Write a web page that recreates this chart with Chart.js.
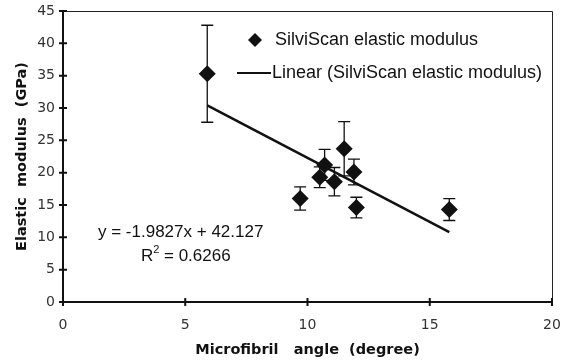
<!DOCTYPE html>
<html>
<head>
<meta charset="utf-8">
<script src="https://cdn.jsdelivr.net/npm/chart.js@4"></script>
<style>
  html, body { margin: 0; padding: 0; background: #fff; }
  #wrap { width: 569px; height: 363px; }
</style>
</head>
<body>
<div id="wrap"><canvas id="chart"></canvas></div>
<script>
// values
const mfa = [5.9, 9.7, 10.5, 10.7, 11.1, 11.5, 11.9, 12.0, 15.8];
const modulus = [35.3, 16.0, 19.3, 21.2, 18.6, 23.7, 20.1, 14.6, 14.3];
const errors = [7.5, 1.8, 1.6, 2.4, 2.2, 4.2, 2.0, 1.6, 1.7];
const trendX = [5.9, 15.8];
const trendY = [30.4, 10.8];
const xTicks = [0, 5, 10, 15, 20];
const yTicks = [0, 5, 10, 15, 20, 25, 30, 35, 40, 45];
const equation = 'y = -1.9827x + 42.127';
const rSquared = '0.6266';

const textFont = '17px "Liberation Sans", Arial, sans-serif';
const legendFont = '18px "Liberation Sans", Arial, sans-serif';

// error bars, axis tick marks, legend and the trendline label
const extras = {
    id: 'extras',
    afterDatasetsDraw(chart) {
        const ctx = chart.ctx;
        const xs = chart.scales.x, ys = chart.scales.y;
        const area = chart.chartArea;
        ctx.save();
        ctx.strokeStyle = '#111';
        ctx.lineWidth = 1.3;
        mfa.forEach((x, i) => {
            const px = xs.getPixelForValue(x);
            const top = ys.getPixelForValue(modulus[i] + errors[i]);
            const bot = ys.getPixelForValue(modulus[i] - errors[i]);
            ctx.beginPath();
            ctx.moveTo(px, top); ctx.lineTo(px, bot);
            ctx.moveTo(px - 6, top); ctx.lineTo(px + 6, top);
            ctx.moveTo(px - 6, bot); ctx.lineTo(px + 6, bot);
            ctx.stroke();
        });

        // plot frame: thin top/right, thick left/bottom
        ctx.strokeStyle = '#222';
        ctx.lineWidth = 1;
        ctx.beginPath();
        ctx.moveTo(area.left, area.top + 0.5); ctx.lineTo(area.right + 0.5, area.top + 0.5);
        ctx.lineTo(area.right + 0.5, area.bottom);
        ctx.stroke();
        ctx.strokeStyle = '#111';
        ctx.lineWidth = 2;
        ctx.beginPath();
        ctx.moveTo(area.left, area.top); ctx.lineTo(area.left, area.bottom);
        ctx.lineTo(area.right + 1, area.bottom);
        ctx.stroke();
        ctx.beginPath();
        yTicks.forEach(v => {
            const py = ys.getPixelForValue(v);
            ctx.moveTo(area.left - 4, py); ctx.lineTo(area.left + 4, py);
        });
        xTicks.forEach(v => {
            const px = xs.getPixelForValue(v);
            ctx.moveTo(px, area.bottom - 4); ctx.lineTo(px, area.bottom + 4);
        });
        ctx.stroke();

        // legend
        ctx.fillStyle = '#111';
        ctx.beginPath();
        ctx.moveTo(255, 33); ctx.lineTo(262, 40); ctx.lineTo(255, 47); ctx.lineTo(248, 40);
        ctx.closePath();
        ctx.fill();
        ctx.lineWidth = 2;
        ctx.beginPath();
        ctx.moveTo(237, 73); ctx.lineTo(271, 73);
        ctx.stroke();
        ctx.font = legendFont;
        ctx.textBaseline = 'middle';
        ctx.textAlign = 'left';
        ctx.fillText('SilviScan elastic modulus', 275, 40);
        ctx.fillText('Linear (SilviScan elastic modulus)', 272, 73);

        // trendline label
        ctx.font = textFont;
        ctx.fillText(equation, 98, 232);
        ctx.fillText('R', 141, 256);
        const rw = ctx.measureText('R').width;
        ctx.font = '11px "Liberation Sans", Arial, sans-serif';
        ctx.fillText('2', 141 + rw, 250);
        ctx.font = textFont;
        ctx.fillText(' = ' + rSquared, 141 + rw + 6, 256);
        ctx.restore();
    }
};

const tickFont = { family: '"DejaVu Sans", Verdana, sans-serif', size: 14 };
const titleFont = { family: '"DejaVu Sans", Verdana, sans-serif', size: 14.5, weight: 'bold' };

new Chart(document.getElementById('chart'), {
    type: 'scatter',
    data: {
        datasets: [{
            label: 'SilviScan elastic modulus',
            data: mfa.map((x, i) => ({ x: x, y: modulus[i] })),
            pointStyle: 'rectRot',
            pointRadius: 8.5,
            backgroundColor: '#111',
            borderColor: '#111',
            borderWidth: 0,
            order: 1
        }, {
            label: 'Linear (SilviScan elastic modulus)',
            type: 'line',
            data: trendX.map((x, i) => ({ x: x, y: trendY[i] })),
            borderColor: '#111',
            borderWidth: 2.5,
            pointRadius: 0,
            fill: false,
            order: 2
        }]
    },
    options: {
        responsive: true,
        maintainAspectRatio: false,
        animation: false,
        layout: { padding: { top: 11, right: 17, left: 0, bottom: 0 } },
        plugins: {
            legend: { display: false },
            tooltip: { enabled: false }
        },
        scales: {
            x: {
                type: 'linear',
                min: 0, max: 20,
                afterBuildTicks: s => { s.ticks = xTicks.map(v => ({ value: v })); },
                afterFit: s => { s.height = 61; s.paddingLeft = 0; s.paddingRight = 0; },
                grid: { display: false, drawTicks: false },
                border: { display: false },
                ticks: { font: tickFont, color: '#333', padding: 15 },
                title: { display: true, text: 'Microfibril   angle  (degree)', font: titleFont, color: '#111', padding: { top: 4, bottom: 4 } }
            },
            y: {
                min: 0, max: 45,
                afterBuildTicks: s => { s.ticks = yTicks.map(v => ({ value: v })); },
                afterFit: s => { s.width = 63; s.paddingTop = 0; s.paddingBottom = 0; },
                grid: { display: false, drawTicks: false },
                border: { display: false },
                ticks: { font: tickFont, color: '#333', padding: 8 },
                title: { display: true, text: 'Elastic  modulus  (GPa)', font: titleFont, color: '#111', padding: { top: 14, bottom: 0 } }
            }
        }
    },
    plugins: [extras]
});
</script>
</body>
</html>
